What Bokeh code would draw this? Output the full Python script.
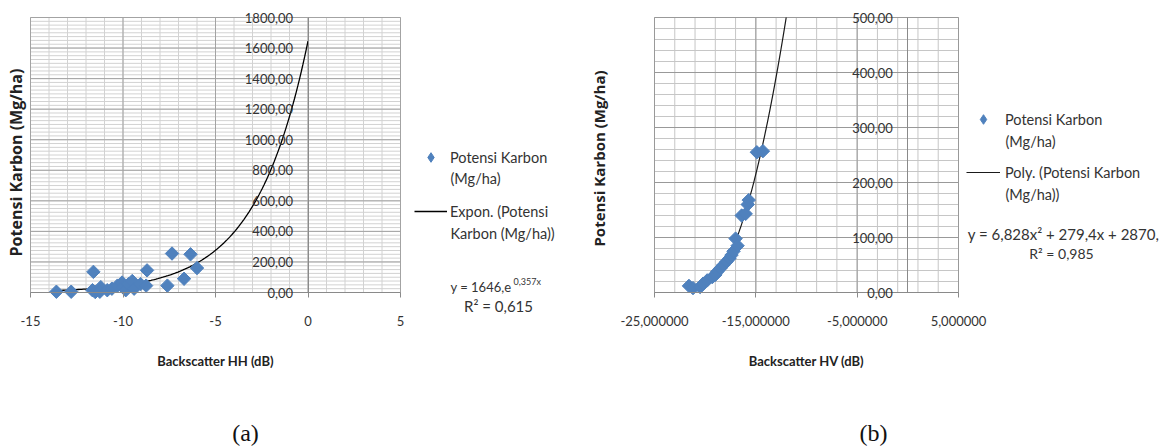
import numpy as np
from bokeh.plotting import figure
from bokeh.layouts import row
from bokeh.models import (LinearAxis, FixedTicker, Legend, LegendItem, Label, Range1d)
from bokeh.embed import file_html
from bokeh.resources import INLINE

# ---------------- data : chart (a) Backscatter HH ----------------
hh_x = [-13.6, -12.8, -11.6, -11.65, -11.5, -11.2, -11.25, -10.85, -10.6, -10.3,
        -10.05, -10.0, -9.85, -9.7, -9.5, -9.4, -9.05, -8.75, -8.7, -7.6,
        -7.35, -6.7, -6.35, -6.0]
hh_y = [5, 5, 135, 15, 3, 35, 5, 15, 25, 45,
        65, 35, 15, 55, 75, 25, 55, 45, 145, 45,
        255, 90, 250, 160]
hh_exp_coef = 1646.0      # trendline printed on chart: y = 1646 e^(0.357x)
hh_exp_rate = 0.357
a_xticks = [-15, -10, -5, 0, 5]
a_xlabels = ["-15", "-10", "-5", "0", "5"]
a_xminor = list(range(-15, 6))
a_yticks = [0, 200, 400, 600, 800, 1000, 1200, 1400, 1600, 1800]
a_ylabels = ["0,00", "200,00", "400,00", "600,00", "800,00", "1000,00",
             "1200,00", "1400,00", "1600,00", "1800,00"]
a_yminor = list(range(0, 1801, 25))

# ---------------- data : chart (b) Backscatter HV ----------------
hv_x = [-21.6, -21.2, -20.5, -20.2, -19.8, -19.3, -19.0, -18.8, -18.5, -18.2,
        -17.9, -17.6, -17.4, -17.2, -17.0, -16.8, -16.4, -16.0, -15.8, -15.7,
        -14.9, -14.3]
hv_y = [12, 8, 10, 16, 22, 28, 32, 38, 44, 50,
        56, 62, 68, 75, 98, 85, 140, 143, 160, 168,
        255, 257]
hv_poly = [6.828, 279.4, 2870.0]  # trendline printed on chart
b_xticks = [-25, -15, -5, 5]
b_xlabels = ["-25,000000", "-15,000000", "-5,000000", "5,000000"]
b_xminor = list(range(-25, 6, 2))
b_yticks = [0, 100, 200, 300, 400, 500]
b_ylabels = ["0,00", "100,00", "200,00", "300,00", "400,00", "500,00"]
b_yminor = list(range(0, 501, 20))

FONT = "Lato"
TXT = "#333333"
BLUE = "#4F81BD"
AX = "#8a8a8a"
H = 448


def make_panel(width, box, xlim, ylim, xticks, xminor, xlabels,
               yticks, yminor, ylabels, xtitle, gmaj, gmin):
    # box = plot-area pixel box inside the figure: (left, right, top, bottom)
    l, r, t, b = box
    sx = (xlim[1] - xlim[0]) / (r - l)
    sy = (ylim[1] - ylim[0]) / (b - t)
    xr = Range1d(xlim[0] - l * sx, xlim[1] + (width - r) * sx)
    yr = Range1d(ylim[0] - (H - b) * sy, ylim[1] + t * sy)
    p = figure(width=width, height=H, output_backend="svg",
               toolbar_location=None, x_axis_location=None,
               y_axis_location=None, x_range=xr, y_range=yr,
               min_border=0, min_border_left=0, min_border_right=0,
               min_border_top=0, min_border_bottom=0)
    p.outline_line_color = None
    p.xgrid.visible = False
    p.ygrid.visible = False
    p.background_fill_color = "white"
    p.border_fill_color = "white"

    # minor then major grid lines, restricted to the plot area
    n1, n2 = len(xminor), len(yminor)
    p.segment(x0=xminor, y0=[ylim[0]] * n1, x1=xminor, y1=[ylim[1]] * n1,
              line_color=gmin, line_width=1)
    p.segment(x0=[xlim[0]] * n2, y0=yminor, x1=[xlim[1]] * n2, y1=yminor,
              line_color=gmin, line_width=1)
    m1, m2 = len(xticks), len(yticks)
    p.segment(x0=xticks, y0=[ylim[0]] * m1, x1=xticks, y1=[ylim[1]] * m1,
              line_color=gmaj, line_width=1)
    p.segment(x0=[xlim[0]] * m2, y0=yticks, x1=[xlim[1]] * m2, y1=yticks,
              line_color=gmaj, line_width=1)

    xa = LinearAxis(ticker=FixedTicker(ticks=xticks), axis_label=xtitle,
                    fixed_location=0, bounds=tuple(xlim),
                    major_label_overrides=dict(zip(xticks, xlabels)),
                    axis_line_color=AX, major_tick_line_color=AX,
                    major_tick_out=5, major_tick_in=0, minor_tick_out=0,
                    major_label_standoff=18, axis_label_standoff=24,
                    major_label_text_font=FONT, major_label_text_font_size="13px",
                    major_label_text_color=TXT,
                    axis_label_text_font=FONT, axis_label_text_font_size="13px",
                    axis_label_text_font_style="bold", axis_label_text_color="#222222")
    p.add_layout(xa, "below")

    ya = LinearAxis(ticker=FixedTicker(ticks=yticks), fixed_location=0,
                    bounds=tuple(ylim),
                    major_label_overrides=dict(zip(yticks, ylabels)),
                    axis_line_color=AX, major_tick_out=0, major_tick_in=0,
                    minor_tick_out=0, major_label_standoff=15,
                    major_label_text_font=FONT, major_label_text_font_size="13px",
                    major_label_text_color=TXT)
    p.add_layout(ya, "left")
    return p


def lbl(p, x, y, text, size="14.5px", align="left", font=FONT, color=TXT,
        angle=0.0, style="normal"):
    p.add_layout(Label(x=x, y=y, x_units="screen", y_units="screen", text=text,
                       text_font=font, text_font_size=size, text_color=color,
                       text_align=align, text_baseline="middle", angle=angle,
                       text_font_style=style))


def legend(p, items, loc, spacing, gw, standoff):
    return Legend(items=items, location=loc, padding=0, margin=0, spacing=spacing,
                  label_height=24, glyph_height=24, glyph_width=gw,
                  label_standoff=standoff, label_text_font=FONT,
                  label_text_font_size="14.5px", label_text_color=TXT,
                  background_fill_alpha=0, border_line_color=None)


def points(p, xs, ys):
    # legend key uses a diamond hidden under the rotated squares
    key = p.scatter(xs, ys, marker="diamond", size=8, fill_color=BLUE,
                    line_color=BLUE)
    p.scatter(xs, ys, marker="square", angle=np.pi / 4, size=9.5,
              fill_color=BLUE, line_color=BLUE)
    return key


# ---------------- chart (a) ----------------
pa = make_panel(580, (30, 400, 17, 292), (-15, 5), (0, 1800), a_xticks, a_xminor,
                a_xlabels, a_yticks, a_yminor, a_ylabels,
                "Backscatter HH (dB)", "#a3a3a3", "#d2d2d2")
ta_x = np.linspace(min(hh_x), 0, 150)
ta_y = hh_exp_coef * np.exp(hh_exp_rate * ta_x)
la = pa.line(ta_x, ta_y, line_color="black", line_width=1.3)
ka = points(pa, hh_x, hh_y)
pa.add_layout(legend(pa, [LegendItem(label="Potensi Karbon", renderers=[ka]),
                          LegendItem(label="Expon. (Potensi", renderers=[la])],
                     (414, 225), 30, 33, 3))
lbl(pa, 450, 270, "(Mg/ha)")
lbl(pa, 450, 215, "Karbon (Mg/ha))")
lbl(pa, 450, 162, "y = 1646,e", size="13px")
lbl(pa, 513, 167, "0,357x", size="9px")
lbl(pa, 498, 143, "R² = 0,615", size="15px", align="center")
lbl(pa, 15, 286, "Potensi Karbon (Mg/ha)", size="16px", align="center",
    font="Open Sans", color="#222222", angle=np.pi / 2, style="bold")
lbl(pa, 245, 16, "(a)", size="24px", align="center", font="Liberation Serif",
    color="#111111")

# ---------------- chart (b) ----------------
pb = make_panel(589, (74, 378, 17, 292), (-25, 5), (0, 500), b_xticks, b_xminor,
                b_xlabels, b_yticks, b_yminor, b_ylabels,
                "Backscatter HV (dB)", "#999999", "#c6c6c6")
qa, qb, qc = hv_poly
x_top = (-qb + np.sqrt(qb * qb - 4 * qa * (qc - 500.0))) / (2 * qa)
tb_x = np.linspace(min(hv_x), x_top, 150)
tb_y = qa * tb_x ** 2 + qb * tb_x + qc
lb = pb.line(tb_x, tb_y, line_color="#1a1a1a", line_width=1.2)
kb = points(pb, hv_x, hv_y)
pb.add_layout(legend(pb, [LegendItem(label="Potensi Karbon", renderers=[kb]),
                          LegendItem(label="Poly. (Potensi Karbon", renderers=[lb])],
                     (386, 264), 29, 34, 5))
lbl(pb, 425, 307, "(Mg/ha)")
lbl(pb, 425, 254, "(Mg/ha))")
lbl(pb, 483, 215, "y = 6,828x² + 279,4x + 2870,", size="15px", align="center")
lbl(pb, 481, 195, "R² = 0,985", size="14px", align="center")
lbl(pb, 18, 290, "Potensi Karbon (Mg/ha)", size="15px", align="center",
    font="Open Sans", color="#222222", angle=np.pi / 2, style="bold")
lbl(pb, 293, 16, "(b)", size="24px", align="center", font="Liberation Serif",
    color="#111111")

layout = row(pa, pb, spacing=0)
open("out.html", "w").write(file_html(layout, INLINE))
